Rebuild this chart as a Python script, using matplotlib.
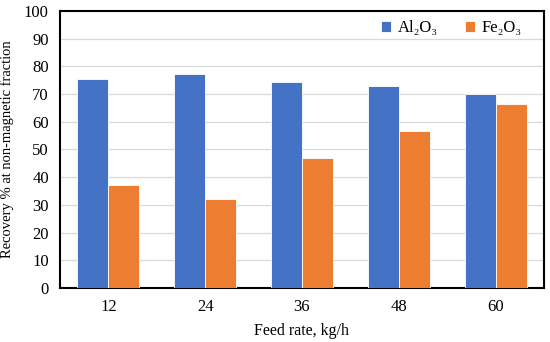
import matplotlib
matplotlib.use('Agg')
import matplotlib.pyplot as plt
import numpy as np

plt.rcParams['font.family'] = ['Liberation Serif', 'DejaVu Serif']

feed_rates = ['12', '24', '36', '48', '60']
al2o3 = [75.5, 77.2, 74.3, 72.8, 70.1]
fe2o3 = [37.0, 32.2, 46.9, 56.6, 66.4]

fig = plt.figure(figsize=(5.5, 3.42), dpi=100)
ax = fig.add_axes([0.109, 0.158, 0.88, 0.81])

x = np.arange(len(feed_rates))
w = 0.32
ax.bar(x - w / 2, al2o3, w, color='#4472C4', edgecolor='white', linewidth=0.6,
       label='Al\u2082O\u2083', zorder=3)
ax.bar(x + w / 2, fe2o3, w, color='#ED7D31', edgecolor='white', linewidth=0.6,
       label='Fe\u2082O\u2083', zorder=3)

ax.set_xlim(-0.5, len(feed_rates) - 0.5)
ax.set_ylim(0, 100)
ax.set_yticks(np.arange(0, 101, 10))
ax.set_xticks(x)
ax.set_xticklabels(feed_rates)
ax.tick_params(axis='both', length=0, labelsize=12, pad=8)
ax.yaxis.grid(True, color='#D9D9D9', linewidth=0.9, zorder=0)
for s in ax.spines.values():
    s.set_linewidth(1.5)
    s.set_color('black')

ax.set_xlabel('Feed rate, kg/h', fontsize=11.5, labelpad=6)
ax.set_ylabel('Recovery % at non-magnetic fraction', fontsize=10.5, labelpad=7)

ax.legend(loc='upper right', ncol=2, frameon=False, fontsize=12,
          handlelength=0.6, handleheight=0.6, columnspacing=1.6,
          handletextpad=0.4, bbox_to_anchor=(0.985, 1.02))

fig.savefig('out.png', dpi=100)
